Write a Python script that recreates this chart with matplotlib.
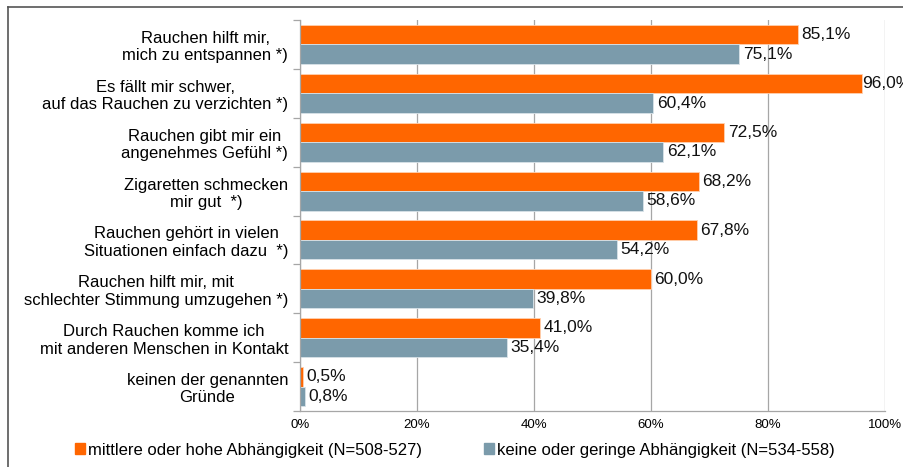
import numpy as np
import matplotlib.pyplot as plt
from matplotlib.patches import Patch
from matplotlib.lines import Line2D

plt.rcParams['font.family'] = ['Liberation Sans', 'DejaVu Sans']

# Gründe für das Rauchen nach Abhängigkeitsgrad (Anteile in %)
kategorien = [
    'Rauchen hilft mir,\nmich zu entspannen *)',
    'Es fällt mir schwer,\nauf das Rauchen zu verzichten *)',
    'Rauchen gibt mir ein\nangenehmes Gefühl *)',
    'Zigaretten schmecken\nmir gut  *)',
    'Rauchen gehört in vielen\nSituationen einfach dazu  *)',
    'Rauchen hilft mir, mit\nschlechter Stimmung umzugehen *)',
    'Durch Rauchen komme ich\nmit anderen Menschen in Kontakt',
    'keinen der genannten\nGründe',
]
hohe_abh = [85.1, 96.0, 72.5, 68.2, 67.8, 60.0, 41.0, 0.5]
geringe_abh = [75.1, 60.4, 62.1, 58.6, 54.2, 39.8, 35.4, 0.8]
x_ticks = [0, 20, 40, 60, 80, 100]

label_hoch = 'mittlere oder hohe Abhängigkeit (N=508-527)'
label_gering = 'keine oder geringe Abhängigkeit (N=534-558)'
farbe_hoch = '#FF6600'
farbe_gering = '#7B9BAB'

fig = plt.figure(figsize=(9.04, 4.67), dpi=100)
ax = fig.add_axes([300 / 904, 1 - 411 / 467, 585 / 904, 391 / 467])

y = np.arange(len(kategorien))
h = 0.4
b1 = ax.barh(y - h / 2, hohe_abh, height=h, color=farbe_hoch,
             edgecolor='#FFD0B0', linewidth=0.6, zorder=2)
b2 = ax.barh(y + h / 2, geringe_abh, height=h, color=farbe_gering,
             edgecolor='#D8E2E8', linewidth=0.6, zorder=2)

def fmt(v):
    return f'{v:.1f}%'.replace('.', ',')

for bars, werte in ((b1, hohe_abh), (b2, geringe_abh)):
    for bar, v in zip(bars, werte):
        # ganz rechts kein Abstand, sonst läuft die Beschriftung aus dem Bild
        dx = 0.6 if v < 95 else 0.05
        ax.text(v + dx, bar.get_y() + bar.get_height() / 2, fmt(v),
                va='center', ha='left', fontsize=12.5, color='#111111', zorder=3)

ax.set_xlim(0, 100)
ax.set_ylim(len(kategorien) - 0.5, -0.5)
ax.set_xticks(x_ticks)
ax.set_xticklabels([f'{t}%' for t in x_ticks], fontsize=9.5)
ax.tick_params(axis='x', length=0, pad=6)
ax.xaxis.grid(True, color='#A6A6A6', linewidth=0.9, zorder=1)
ax.set_axisbelow(True)

ax.set_yticks(y)
ax.set_yticklabels(kategorien, fontsize=12, ha='right', multialignment='center')
ax.tick_params(axis='y', length=0, pad=8.5)
ax.set_yticks(np.arange(len(kategorien) + 1) - 0.5, minor=True)
ax.tick_params(axis='y', which='minor', length=5, color='#A6A6A6', width=0.9)

for s in ('top', 'right'):
    ax.spines[s].set_visible(False)
ax.spines['left'].set_color('#A6A6A6')
ax.spines['bottom'].set_color('#A6A6A6')
ax.spines['left'].set_linewidth(0.9)
ax.spines['bottom'].set_linewidth(0.9)

handles = [Patch(color=farbe_hoch), Patch(color=farbe_gering)]
fig.legend(handles, [label_hoch, label_gering], loc='center left',
           bbox_to_anchor=(75 / 904, 1 - 450 / 467), ncol=2, frameon=False,
           fontsize=12, handlelength=0.6, handleheight=0.6,
           handletextpad=0.2, columnspacing=3.7, borderaxespad=0, borderpad=0)

# Rahmen links und oben
x0, y0 = 8 / 904, 1 - 7 / 467
fig.add_artist(Line2D([x0, x0], [0, y0], color='#555555', linewidth=1.2))
fig.add_artist(Line2D([x0, 1], [y0, y0], color='#555555', linewidth=1.2))

fig.savefig('out.png', dpi=100)
